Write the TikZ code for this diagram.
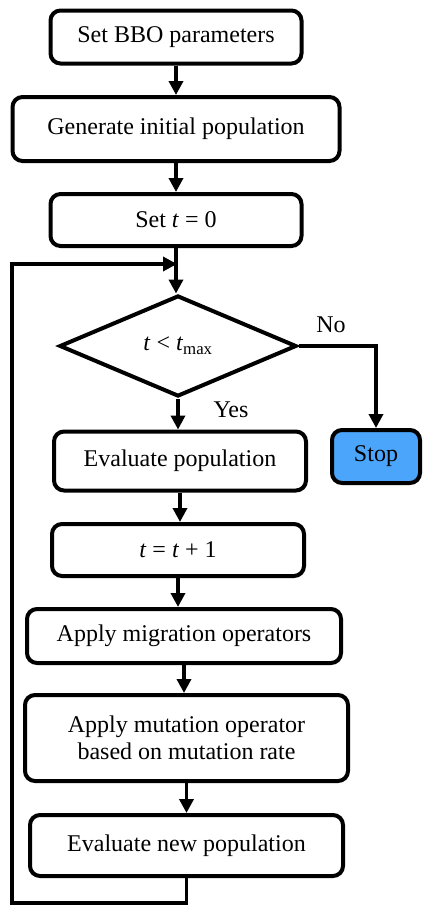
\documentclass[tikz,border=0pt]{standalone}
\usepackage{fontspec}
\setmainfont{LiberationSerif}[Extension=.ttf, UprightFont=*-Regular, ItalicFont=*-Italic, BoldFont=*-Bold, BoldItalicFont=*-BoldItalic]
\usetikzlibrary{shapes.geometric,arrows.meta}
\definecolor{stopblue}{RGB}{75,165,250}
\begin{document}
\begin{tikzpicture}[x=1pt,y=-1pt,
  box/.style={draw, line width=4pt, rounded corners=10pt, align=center, inner sep=0pt, font=\rmfamily\fontsize{24}{27}\selectfont},
  arr/.style={line width=3.5pt, -{Triangle[length=14pt,width=14pt]}}]
\useasboundingbox (0,0) rectangle (424,906);
\node[box, minimum width=251pt, minimum height=53pt] (params) at (176,37) {Set BBO parameters};
\node[box, minimum width=327pt, minimum height=64pt] (init) at (176,129) {Generate initial population};
\node[box, minimum width=251pt, minimum height=52pt] (tzero) at (176,220) {Set \textit{t} = 0};
\node[draw, diamond, line width=4pt, minimum width=237pt, minimum height=101pt, inner sep=0pt, font=\rmfamily\fontsize{24}{27}\selectfont] (cond) at (178,346) {\textit{t} < \textit{t}\textsubscript{max}};
\node[box, minimum width=252pt, minimum height=59pt] (evalpop) at (180,461) {Evaluate population};
\node[box, minimum width=88pt, minimum height=53pt, fill=stopblue] (stop) at (376,456.5) {Stop};
\node[box, minimum width=252pt, minimum height=52pt] (incr) at (178,550) {\textit{t} = \textit{t} + 1};
\node[box, minimum width=314pt, minimum height=54pt] (migr) at (184,636) {Apply migration operators};
\node[box, minimum width=323pt, minimum height=86pt] (mut) at (186.5,738) {Apply mutation operator\\based on mutation rate};
\node[box, minimum width=313pt, minimum height=61pt] (newpop) at (186.5,845.5) {Evaluate new population};
\node[font=\rmfamily\fontsize{24}{27}\selectfont] (no) at (331,325) {No};
\node[font=\rmfamily\fontsize{24}{27}\selectfont] (yes) at (231,410) {Yes};
% main flow
\draw[arr] (params.south) -- (params.south |- init.north);
\draw[arr] (init.south) -- (init.south |- tzero.north);
\draw[arr] (tzero.south) -- (tzero.south |- cond.north);
\draw[arr] (cond.south) -- (cond.south |- evalpop.north);
\draw[arr] (evalpop.south) -- (evalpop.south |- incr.north);
\draw[arr] (incr.south) -- (incr.south |- migr.north);
\draw[arr] (migr.south) -- (migr.south |- mut.north);
\draw[arr] (mut.south) -- (mut.south |- newpop.north);
\draw[arr] (cond.east) -- (stop.north |- cond.east) -- (stop.north);
% loop back
\coordinate (join) at (177,264);
\draw[arr] (newpop.south) -- (newpop.south |- 0,903) -- (12,903) -- (12,264) -- (join);
\end{tikzpicture}
\end{document}
